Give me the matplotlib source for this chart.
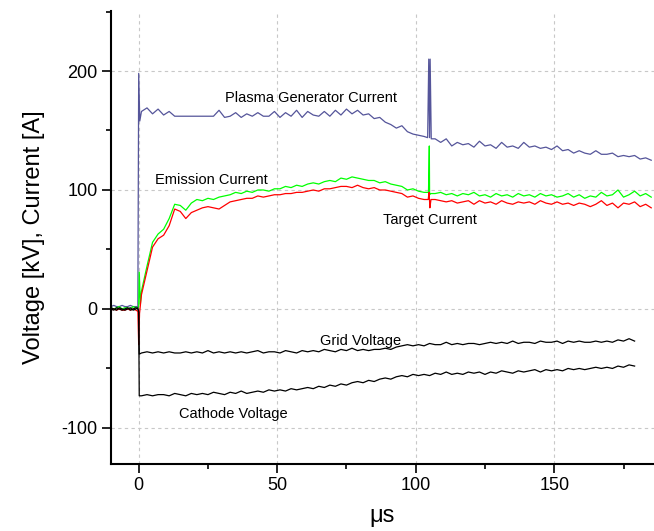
import numpy as np
import matplotlib
matplotlib.use('Agg')
import matplotlib.pyplot as plt
from matplotlib.ticker import MultipleLocator

plt.rcParams['font.family'] = ['Liberation Sans', 'DejaVu Sans']
plt.rcParams['axes.unicode_minus'] = False

# before the pulse (t < 0)
t_pre = [-10, -9, -8, -7, -6, -5, -4, -3, -2, -1, -0.3]
plasma_pre = [2, 3, 2, 2, 3, 2, 2, 3, 2, 2, 2]
emission_pre = [1, 0, 1, 2, 0, 1, 1, 0, 2, 1, 1]
target_pre = [-1, 0, -1, 0, -1, -1, 0, -1, 0, -1, -2]
grid_pre = [0, -1, 1, 0, -1, 0, 1, -1, 0, 1, 0]
cathode_pre = [1, 0, -1, 1, 0, -1, 0, 1, -1, 0, 1]

# edge at t = 0
t_plasma_edge = [0, 0.4]
plasma_edge = [198, 158]
t_emission_edge = [0, 0.2, 0.6]
emission_edge = [2, 31, 4]
t_target_edge = [0, 0.3]
target_edge = [-30, -4]
t_volt_edge = [0, 0.2]
grid_edge = [-2, -38]
cathode_edge = [-3, -73]

# narrow spikes near t = 105
t_plasma_spike = [104.3, 104.7, 105.2, 105.6]
plasma_spike = [144, 210, 210, 143]
t_emission_spike = [104.6, 104.9, 105.3]
emission_spike = [98, 137, 97]
t_target_spike = [104.5, 104.8, 105.1, 105.5]
target_spike = [92, 98, 85, 92]

# samples every 2 us from t = 1
plasma = [166, 169, 164, 168, 163, 166, 162, 162, 162, 162,
          162, 162, 162, 162, 167, 161, 162, 165, 161, 164,
          162, 165, 162, 162, 166, 161, 165, 162, 167, 161,
          166, 163, 162, 166, 162, 167, 163, 168, 164, 167,
          163, 164, 160, 161, 157, 155, 152, 154, 149, 147,
          146, 145, 144, 143, 140, 143, 137, 140, 138, 139,
          136, 141, 137, 138, 135, 140, 136, 137, 135, 140,
          136, 137, 135, 136, 134, 137, 133, 134, 131, 133,
          131, 130, 133, 130, 130, 131, 128, 129, 128, 129,
          126, 127, 125]
emission = [15, 36, 56, 63, 67, 76, 88, 87, 83, 89,
            92, 91, 93, 92, 94, 95, 96, 98, 97, 99,
            98, 100, 100, 99, 101, 101, 103, 102, 104, 103,
            105, 106, 105, 107, 108, 107, 110, 109, 111, 110,
            109, 108, 108, 106, 107, 105, 104, 103, 100, 101,
            99, 98, 96, 97, 98, 96, 97, 95, 97, 96,
            98, 95, 96, 94, 97, 95, 96, 94, 97, 95,
            96, 94, 97, 95, 96, 94, 95, 97, 94, 96,
            93, 95, 94, 98, 95, 96, 100, 94, 96, 99,
            95, 97, 94]
target = [12, 32, 52, 59, 62, 70, 84, 82, 76, 81,
          83, 85, 86, 85, 84, 87, 90, 91, 92, 93,
          93, 95, 94, 95, 96, 96, 97, 97, 98, 98,
          99, 100, 99, 101, 101, 102, 103, 103, 102, 104,
          102, 101, 102, 100, 100, 99, 98, 97, 94, 95,
          93, 92, 90, 92, 91, 90, 91, 89, 90, 91,
          88, 91, 89, 90, 88, 91, 89, 88, 90, 89,
          90, 88, 91, 89, 88, 90, 88, 89, 87, 89,
          88, 86, 88, 91, 87, 89, 85, 89, 88, 90,
          86, 88, 85]
grid_v = [-37, -36, -37, -36, -37, -36, -37, -37, -36, -37,
          -36, -37, -35, -37, -36, -37, -36, -37, -36, -37,
          -36, -35, -37, -36, -36, -37, -35, -36, -37, -35,
          -36, -35, -36, -34, -35, -36, -34, -35, -33, -35,
          -34, -35, -34, -34, -33, -34, -32, -31, -30, -31,
          -30, -31, -29, -30, -30, -28, -30, -29, -30, -29,
          -29, -30, -29, -28, -29, -28, -29, -27, -29, -28,
          -28, -29, -27, -28, -28, -27, -29, -27, -28, -27,
          -28, -28, -27, -28, -27, -28, -26, -27, -25, -27]
cathode_v = [-73, -72, -73, -72, -72, -73, -71, -72, -73, -71,
             -72, -71, -72, -70, -71, -72, -70, -71, -69, -71,
             -70, -69, -70, -68, -69, -68, -69, -67, -68, -67,
             -66, -67, -65, -66, -64, -65, -63, -64, -62, -61,
             -62, -60, -61, -59, -58, -59, -57, -56, -57, -55,
             -56, -55, -56, -54, -55, -53, -55, -54, -55, -53,
             -54, -53, -55, -53, -54, -52, -53, -54, -52, -53,
             -52, -51, -53, -51, -52, -51, -52, -50, -51, -50,
             -51, -50, -49, -50, -49, -50, -48, -49, -47, -48]


def trace(t_edge, edge, pre, main, t_spike=(), spike=()):
    t_main = 1 + 2 * np.arange(len(main))
    t = np.concatenate([t_pre, t_edge, t_main, t_spike])
    y = np.concatenate([pre, edge, main, spike])
    order = np.argsort(t, kind='stable')
    return t[order], y[order]


fig = plt.figure(figsize=(6.54, 5.31), dpi=100)
ax = fig.add_axes([0.1697, 0.1262, 0.8303, 0.853])

ax.plot(*trace(t_plasma_edge, plasma_edge, plasma_pre, plasma,
               t_plasma_spike, plasma_spike), color='#55559a', lw=0.9)
ax.plot(*trace(t_emission_edge, emission_edge, emission_pre, emission,
               t_emission_spike, emission_spike), color='#00ff00', lw=0.9)
ax.plot(*trace(t_target_edge, target_edge, target_pre, target,
               t_target_spike, target_spike), color='#ff0000', lw=0.9)
ax.plot(*trace(t_volt_edge, grid_edge, grid_pre, grid_v), color='black', lw=0.9)
ax.plot(*trace(t_volt_edge, cathode_edge, cathode_pre, cathode_v), color='black', lw=0.9)

lbl = dict(fontsize=10.5, va='center', ha='left')
ax.text(31.2, 177.6, 'Plasma Generator Current', **lbl)
ax.text(5.9, 108.4, 'Emission Current', **lbl)
ax.text(88.2, 74.8, 'Target Current', **lbl)
ax.text(65.6, -26.6, 'Grid Voltage', **lbl)
ax.text(14.6, -88.7, 'Cathode Voltage', **lbl)

ax.set_xlim(-10, 186)
ax.set_ylim(-130.3, 250.4)
ax.xaxis.set_major_locator(MultipleLocator(50))
ax.xaxis.set_minor_locator(MultipleLocator(25))
ax.yaxis.set_major_locator(MultipleLocator(100))
ax.yaxis.set_minor_locator(MultipleLocator(50))

ax.grid(True, which='major', color='#c8c8c8', linestyle=(0, (3, 3)), lw=0.8)
ax.set_axisbelow(True)
for s in ['top', 'right']:
    ax.spines[s].set_visible(False)
for s in ['left', 'bottom']:
    ax.spines[s].set_linewidth(1.5)
ax.tick_params(which='major', direction='out', length=6.5, width=1.2, labelsize=13, pad=3)
ax.tick_params(which='minor', direction='out', length=3.5, width=1.2)

ax.set_xlabel('μs', fontsize=17, labelpad=8)
ax.set_ylabel('Voltage [kV], Current [A]', fontsize=17, labelpad=12)

fig.savefig('out.png', dpi=100)
